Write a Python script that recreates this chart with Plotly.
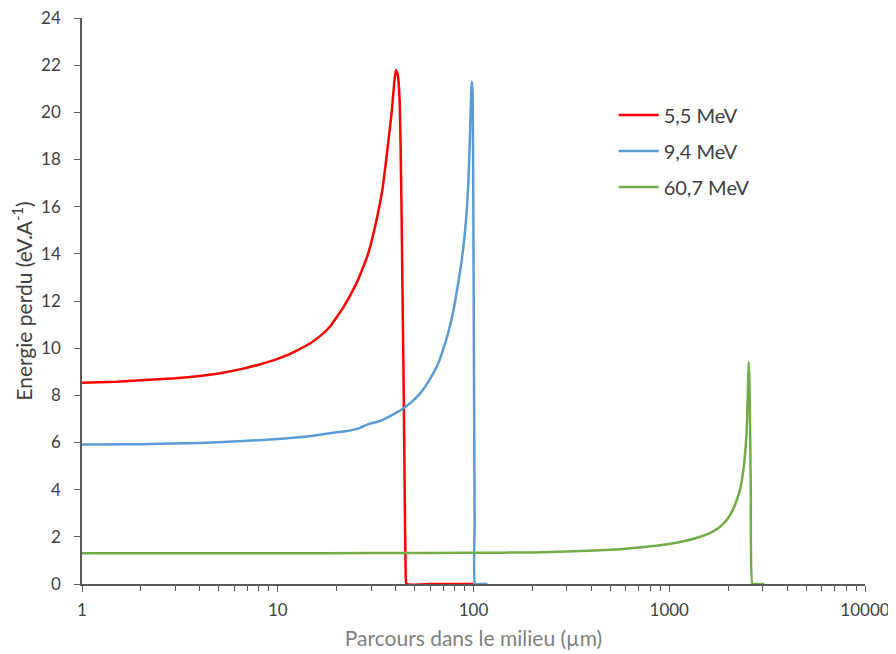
import plotly.graph_objects as go

# 5,5 MeV
x_55 = [1, 1.5, 2, 3, 4, 5, 6.4, 8, 9.5, 11, 12.5, 14.6, 16.5, 18.5, 21.7, 25.4, 28.7, 31.7, 34.2, 36.3, 38.3, 39.3, 40.1, 41.0, 42.0, 42.8, 43.4, 44.0, 44.5, 45.0, 45.5, 60, 80, 100]
y_55 = [8.53, 8.58, 8.64, 8.72, 8.82, 8.93, 9.1, 9.3, 9.48, 9.68, 9.9, 10.2, 10.52, 10.92, 11.75, 12.8, 13.9, 15.3, 16.7, 18.4, 20.1, 21.2, 21.8, 21.6, 20.4, 16.4, 12.3, 8.2, 4.1, 0.6, 0, 0, 0, 0]

# 9,4 MeV
x_94 = [1, 2, 4, 7, 10, 14, 18, 23, 26, 29, 33, 37, 43, 48, 53, 57, 61, 66, 70, 74, 79, 83.5, 87, 90.4, 92.5, 94.1, 95.5, 96.5, 97.5, 98.2, 99.0, 99.8, 100.6, 101.3, 101.8, 110, 118]
y_94 = [5.92, 5.93, 5.98, 6.07, 6.15, 6.25, 6.38, 6.5, 6.6, 6.78, 6.9, 7.1, 7.4, 7.7, 8.05, 8.4, 8.8, 9.35, 9.95, 10.6, 11.6, 12.75, 13.7, 14.9, 15.9, 17.0, 18.5, 19.8, 21.0, 21.3, 20.8, 16.0, 8.65, 2.5, 0, 0, 0]

# 60,7 MeV
x_607 = [1, 3, 10, 30, 100, 200, 300, 500, 700, 1000, 1200, 1400, 1600, 1770, 1900, 2000, 2100, 2200, 2300, 2360, 2420, 2480, 2520, 2545, 2570, 2610, 2660, 2800, 3060]
y_607 = [1.3, 1.3, 1.3, 1.31, 1.32, 1.34, 1.38, 1.45, 1.55, 1.7, 1.82, 1.97, 2.15, 2.35, 2.58, 2.8, 3.1, 3.5, 4.0, 4.5, 5.2, 6.3, 8.0, 9.4, 8.5, 4.0, 0, 0, 0]

names = ["5,5 MeV", "9,4 MeV", "60,7 MeV"]
colors = ["#FF0000", "#5B9BD5", "#70AD47"]

y_ticks = list(range(0, 25, 2))
x_major = [1, 10, 100, 1000, 10000]
x_major_labels = ["1", "10", "100", "1000", "10000"]
x_minor = [m * d for d in [1, 10, 100, 1000] for m in range(2, 10)]

FONT = "Lato, 'Noto Sans', sans-serif"
AX = "#595959"

fig = go.Figure()
for xs, ys, nm, c in zip([x_55, x_94, x_607], [y_55, y_94, y_607], names, colors):
    fig.add_trace(go.Scatter(x=xs, y=ys, mode="lines", name=nm, legendgroup=nm, cliponaxis=False,
                             line=dict(color=c, width=2.5, shape="spline", smoothing=0.4)))

fig.update_layout(
    width=888, height=646,
    paper_bgcolor="white", plot_bgcolor="white",
    margin=dict(l=74, r=31, t=10, b=70),
    font=dict(family=FONT, size=17, color="#404040"),
    showlegend=True,
    legend=dict(x=0.679, y=0.863, xanchor="left", yanchor="top",
                font=dict(size=20, color="#404040"),
                bgcolor="rgba(0,0,0,0)", tracegroupgap=7, itemwidth=40,
                traceorder="grouped"),
    xaxis=dict(type="log", range=[0, 4], automargin=False, layer="below traces",
               tickvals=x_major, ticktext=x_major_labels,
               ticks="outside", ticklen=6, tickcolor=AX, tickwidth=1.3,
               showline=True, linecolor=AX, linewidth=1.5,
               showgrid=False, zeroline=False, ticklabelstandoff=4,
               ticklabeloverflow="allow",
               tickfont=dict(size=17, color="#404040"),
               minor=dict(tickvals=x_minor, ticks="outside", ticklen=5, tickcolor=AX, tickwidth=1.3, showgrid=False),
               title=dict(text="Parcours dans le milieu (µm)", font=dict(size=21, color="#7F7F7F"), standoff=12)),
    yaxis=dict(range=[0, 24], tickvals=y_ticks, automargin=False,
               ticks="outside", ticklen=6, tickcolor=AX, tickwidth=1.3,
               showline=True, linecolor=AX, linewidth=1.5,
               showgrid=False, zeroline=False, ticklabelstandoff=10,
               ticklabeloverflow="allow",
               tickfont=dict(size=17, color="#404040"),
               title=dict(text="Energie perdu (eV.A<sup>-1</sup>)", font=dict(size=21, color="#404040"), standoff=12)),
)

fig.write_html("out.html")
